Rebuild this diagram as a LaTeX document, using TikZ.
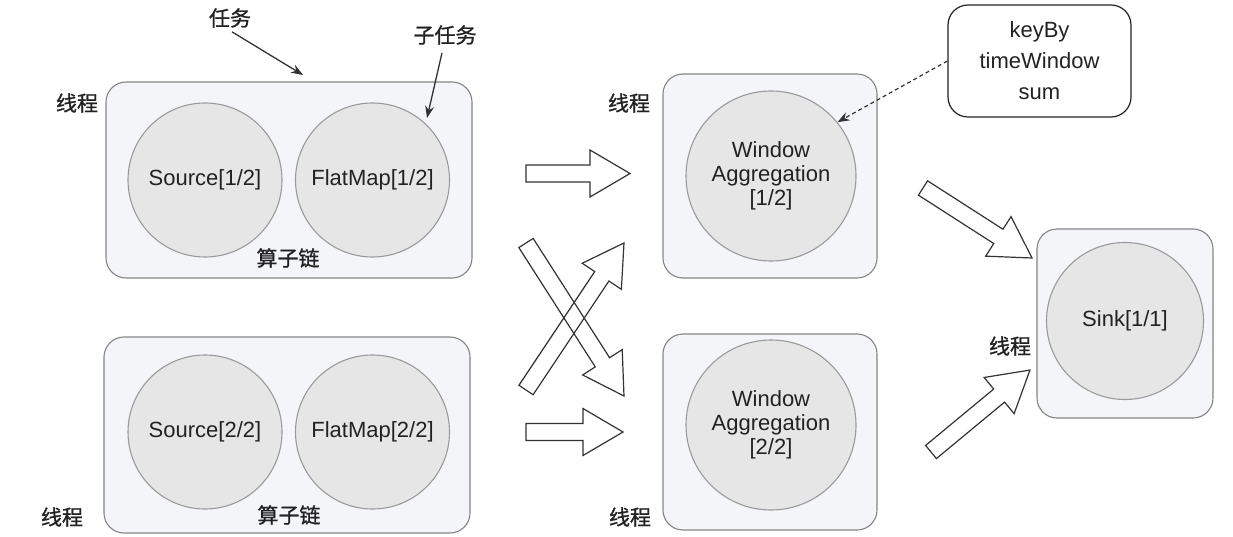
\documentclass[tikz,border=0pt]{standalone}
\usepackage{fontspec}
\setmainfont{Liberation Sans}
\newfontfamily\cjk[FakeBold=1]{Noto Sans CJK SC}
\usetikzlibrary{calc,arrows.meta}
\definecolor{boxfill}{HTML}{F4F5F8}
\definecolor{boxline}{HTML}{858585}
\definecolor{opfill}{HTML}{E6E6E6}
\definecolor{opline}{HTML}{9A9A9A}
\definecolor{ink}{HTML}{222222}
\definecolor{arr}{HTML}{333333}
\newcommand\blockarrow[2]{%
  \draw[blk] let \p1=($(#2)-(#1)$), \n1={atan2(\y1,\x1)}, \n2={veclen(\x1,\y1)} in
   [shift={(#1)}, rotate=\n1] (0,-8.5) -- (\n2-40,-8.5) -- (\n2-40,-23.5) -- (\n2,0)
   -- (\n2-40,23.5) -- (\n2-40,8.5) -- (0,8.5) -- cycle;}
\begin{document}
\begin{tikzpicture}[x=1pt,y=-1pt,
  thread/.style={draw=boxline, fill=boxfill, rounded corners=20pt, line width=1.1pt, inner sep=0pt},
  op/.style={circle, draw=opline, fill=opfill, line width=1.1pt, align=center, inner sep=0pt,
     text=ink, font=\fontsize{22}{24}\selectfont},
  lbl/.style={text=ink, font=\cjk\fontsize{21}{24}\selectfont, inner sep=0pt},
  blk/.style={draw=arr, line width=1.2pt, line join=miter},
  ptr/.style={draw=arr, line width=1.3pt, -{Stealth[length=12pt,width=9pt]}},
  dptr/.style={draw=arr, line width=1.2pt, dash pattern=on 4pt off 3pt, -{Stealth[length=12pt,width=9pt]}}
]
\useasboundingbox (0,0) rectangle (1233,537);
\fill[white] (0,0) rectangle (1233,537);

% thread boxes
\node[thread, minimum width=366pt, minimum height=196pt] (t1) at (289,180) {};
\node[thread, minimum width=366pt, minimum height=196pt] (t2) at (287,435) {};
\node[thread, minimum width=214pt, minimum height=204pt] (t3) at (770,176) {};
\node[thread, minimum width=214pt, minimum height=196pt] (t4) at (770,432) {};
\node[thread, minimum width=176pt, minimum height=189pt] (t5) at (1125,323.5) {};

% operator circles
\node[op, minimum size=154pt] (s1) at (205,180) {Source[1/2]};
\node[op, minimum size=154pt] (f1) at (372.5,180) {FlatMap[1/2]};
\node[op, minimum size=154pt] (s2) at (205,432) {Source[2/2]};
\node[op, minimum size=154pt] (f2) at (372.5,432) {FlatMap[2/2]};
\node[op, minimum size=170pt] (w1) at (771,176) {Window\\Aggregation\\{}[1/2]};
\node[op, minimum size=170pt] (w2) at (771,425) {Window\\Aggregation\\{}[2/2]};
\node[op, minimum size=157pt] (sk) at (1125,321) {Sink[1/1]};

% keyBy box
\node[draw=ink, fill=white, rounded corners=20pt, line width=1.2pt, minimum width=183pt,
  minimum height=112pt, align=center, text=ink, font=\fontsize{22}{31}\selectfont] (kb)
  at (1039.5,61) {keyBy\\timeWindow\\sum};

% labels
\node[lbl] (lt1) at (77,103) {线程};
\node[lbl] (lt2) at (62,517) {线程};
\node[lbl] (lt3) at (629,103) {线程};
\node[lbl] (lt4) at (630,517) {线程};
\node[lbl] (lt5) at (1010,346) {线程};
\node[lbl] (c1) at (288,258) {算子链};
\node[lbl] (c2) at (289,515) {算子链};
\node[lbl] (task) at (230,18) {任务};
\node[lbl] (sub) at (445,35) {子任务};

% pointer arrows
\coordinate (taskA) at (303,75);
\coordinate (subA) at (427,118);
\draw[ptr] ($(task.south)+(2,4)$) -- (taskA);
\draw[ptr] ($(sub.south)+(-3,8)$) -- (subA);
\draw[dptr] (kb.west) -- (w1.39);

% block arrows
\coordinate (a1s) at (526,173.5); \coordinate (a1e) at (630,173.5);
\coordinate (a2s) at (526,432);   \coordinate (a2e) at (623,432);
\coordinate (a3s) at (526,243);   \coordinate (a3e) at (624,396);
\coordinate (a4s) at (526,390);   \coordinate (a4e) at (624,243);
\coordinate (a5s) at (923,188);   \coordinate (a5e) at (1032,258);
\coordinate (a6s) at (931,452);   \coordinate (a6e) at (1030,370);
\blockarrow{a1s}{a1e}
\blockarrow{a2s}{a2e}
\blockarrow{a3s}{a3e}
\blockarrow{a4s}{a4e}
\blockarrow{a5s}{a5e}
\blockarrow{a6s}{a6e}
\end{tikzpicture}
\end{document}
